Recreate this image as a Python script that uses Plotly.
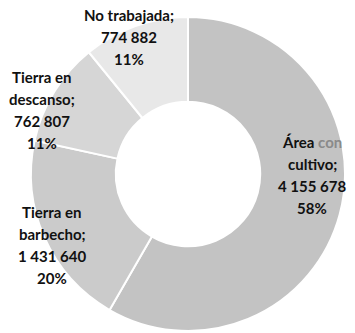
import plotly.graph_objects as go

# Land use categories and areas
categories = ["Área con cultivo", "Tierra en barbecho", "Tierra en descanso", "No trabajada"]
areas = [4155678, 1431640, 762807, 774882]
colors = ["#c3c3c3", "#cbcbcb", "#d6d6d6", "#e8e8e8"]

# Label line breaks for each category (first lines of each label)
name_lines = [
    ["Área <span style='color:#8a8a8a'>con</span>", "cultivo;"],
    ["Tierra en", "barbecho;"],
    ["Tierra en", "descanso;"],
    ["No trabajada;"],
]
# Label block anchor (pixel x centre, pixel y of first line)
label_pos = [(312, 142), (52, 212), (42, 77), (129, 15)]

W, H = 355, 333
total = sum(areas)

fig = go.Figure(go.Pie(
    labels=categories,
    values=areas,
    sort=False,
    direction="clockwise",
    rotation=0,
    hole=0.46,
    marker=dict(colors=colors, line=dict(color="white", width=2)),
    textinfo="none",
    hoverinfo="label+value+percent",
    domain=dict(x=[31 / W, 345 / W], y=[1 - 331 / H, 1 - 17 / H]),
    showlegend=False,
))

line_step = 22
annotations = []
for name, val, (px, py) in zip(name_lines, areas, label_pos):
    lines = name + [f"{val:,}".replace(",", " "), f"{round(val / total * 100)}%"]
    for i, txt in enumerate(lines):
        annotations.append(dict(
            x=px / W, y=1 - (py + i * line_step) / H,
            xref="paper", yref="paper",
            text=f"<b>{txt}</b>", showarrow=False,
            xanchor="center", yanchor="middle",
            font=dict(family="Lato", size=15, color="#111111"),
        ))

fig.update_layout(
    width=W, height=H,
    margin=dict(l=0, r=0, t=0, b=0),
    paper_bgcolor="white",
    plot_bgcolor="white",
    annotations=annotations,
)

fig.write_html("out.html")
